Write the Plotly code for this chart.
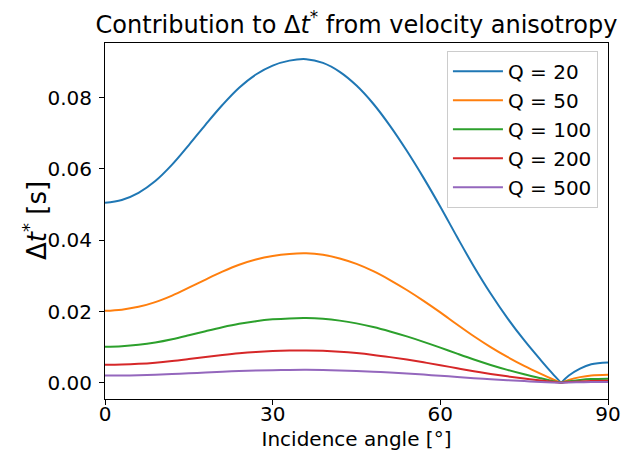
import plotly.graph_objects as go

# Incidence angle [deg]
angles = [0, 3, 6, 9, 12, 15, 18, 21, 24, 27, 30, 33, 36, 39, 42, 45, 48, 51, 54,
          57, 60, 63, 66, 69, 72, 75, 78, 80, 81.6, 83, 85, 87, 90]

dt_q20 = [0.0505, 0.0513, 0.0533, 0.0566, 0.0612, 0.0667, 0.07245, 0.07795, 0.0828,
          0.0865, 0.0890, 0.0904, 0.0908, 0.08975, 0.08725, 0.0834, 0.0783, 0.0721,
          0.0651, 0.0575, 0.0494, 0.0409, 0.03265, 0.02505, 0.01815, 0.01195, 0.0063,
          0.0027, 0.0, 0.00205, 0.0040, 0.0052, 0.0057]
dt_q50 = [0.0202, 0.02052, 0.02132, 0.02264, 0.02448, 0.02668, 0.02898, 0.03118,
          0.03312, 0.0346, 0.0356, 0.03616, 0.03632, 0.0359, 0.0349, 0.03336, 0.03132,
          0.02884, 0.02604, 0.0230, 0.01976, 0.01636, 0.01306, 0.01002, 0.00726,
          0.00478, 0.00252, 0.00108, 0.0, 0.00082, 0.0016, 0.00208, 0.00228]
dt_q100 = [0.0101, 0.01026, 0.01066, 0.01132, 0.01224, 0.01334, 0.01449, 0.01559,
           0.01656, 0.0173, 0.0178, 0.01808, 0.01816, 0.01795, 0.01745, 0.01668,
           0.01566, 0.01442, 0.01302, 0.0115, 0.00988, 0.00818, 0.00653, 0.00501,
           0.00363, 0.00239, 0.00126, 0.00054, 0.0, 0.00041, 0.0008, 0.00104, 0.00114]
dt_q200 = [0.00505, 0.00513, 0.00533, 0.00566, 0.00612, 0.00667, 0.007245, 0.007795,
           0.00828, 0.00865, 0.0089, 0.00904, 0.00908, 0.008975, 0.008725, 0.00834,
           0.00783, 0.00721, 0.00651, 0.00575, 0.00494, 0.00409, 0.003265, 0.002505,
           0.001815, 0.001195, 0.00063, 0.00027, 0.0, 0.000205, 0.0004, 0.00052, 0.00057]
dt_q500 = [0.00202, 0.002052, 0.002132, 0.002264, 0.002448, 0.002668, 0.002898,
           0.003118, 0.003312, 0.00346, 0.00356, 0.003616, 0.003632, 0.00359, 0.00349,
           0.003336, 0.003132, 0.002884, 0.002604, 0.0023, 0.001976, 0.001636,
           0.001306, 0.001002, 0.000726, 0.000478, 0.000252, 0.000108, 0.0,
           0.000082, 0.00016, 0.000208, 0.000228]

series_names = ["Q = 20", "Q = 50", "Q = 100", "Q = 200", "Q = 500"]
series_values = [dt_q20, dt_q50, dt_q100, dt_q200, dt_q500]
colors = ["#1f77b4", "#ff7f0e", "#2ca02c", "#d62728", "#9467bd"]

x_ticks = [0, 30, 60, 90]
y_ticks = [0.00, 0.02, 0.04, 0.06, 0.08]

FONT = "DejaVu Sans"
cusp = angles.index(81.6)

fig = go.Figure()
for name, vals, col in zip(series_names, series_values, colors):
    # left branch (up to the cusp) and right branch, same legend group
    fig.add_trace(go.Scatter(x=angles[:cusp + 1], y=vals[:cusp + 1], mode="lines",
                             name=name, legendgroup=name,
                             line=dict(color=col, width=2, shape="spline", smoothing=1)))
    fig.add_trace(go.Scatter(x=angles[cusp:], y=vals[cusp:], mode="lines",
                             name=name, legendgroup=name, showlegend=False,
                             line=dict(color=col, width=2, shape="spline", smoothing=1)))

all_vals = [v for s in series_values for v in s]
ymin, ymax = min(all_vals), max(all_vals)
pad = (ymax - ymin) * 0.05

fig.update_layout(
    template="none",
    width=623, height=453,
    margin=dict(l=105, r=15, t=43, b=54, autoexpand=False),
    paper_bgcolor="white", plot_bgcolor="white",
    font=dict(family=FONT, size=20, color="black"),
    title=dict(text="Contribution to Δ<i>t</i><sup>*</sup> from velocity anisotropy",
               x=(105 + 608) / 2 / 623, xanchor="center", y=1 - 25 / 453, yanchor="middle",
               font=dict(family=FONT, size=24, color="black")),
    showlegend=True,
    legend=dict(x=0.98, xanchor="right", y=0.978, yanchor="top",
                bgcolor="rgba(255,255,255,0.8)", bordercolor="#cccccc", borderwidth=1,
                font=dict(family=FONT, size=20, color="black"),
                tracegroupgap=0, traceorder="grouped", itemwidth=50),
    xaxis=dict(range=[0, 90], tickvals=x_ticks, ticktext=[str(t) for t in x_ticks],
               showgrid=False, zeroline=False, showline=True, linecolor="black",
               linewidth=1, mirror=True, ticks="outside", ticklen=5, tickcolor="black",
               automargin=False, tickfont=dict(family=FONT, size=20),
               ticklabelstandoff=-8,
               title=dict(text="Incidence angle [°]", standoff=6,
                          font=dict(family=FONT, size=20))),
    yaxis=dict(range=[ymin - pad, ymax + pad], tickvals=y_ticks,
               ticktext=["%.2f" % t for t in y_ticks],
               showgrid=False, zeroline=False, showline=True, linecolor="black",
               linewidth=1, mirror=True, ticks="outside", ticklen=5, tickcolor="black",
               automargin=False, tickfont=dict(family=FONT, size=20),
               ticklabelstandoff=3),
    annotations=[dict(text="Δ<i>t</i><sup>*</sup> [s]", xref="paper", yref="paper",
                      x=(35 - 105) / 503, y=0.5, xanchor="center", yanchor="middle",
                      textangle=-90, showarrow=False,
                      font=dict(family=FONT, size=26, color="black"))],
)

fig.write_html("out.html")
